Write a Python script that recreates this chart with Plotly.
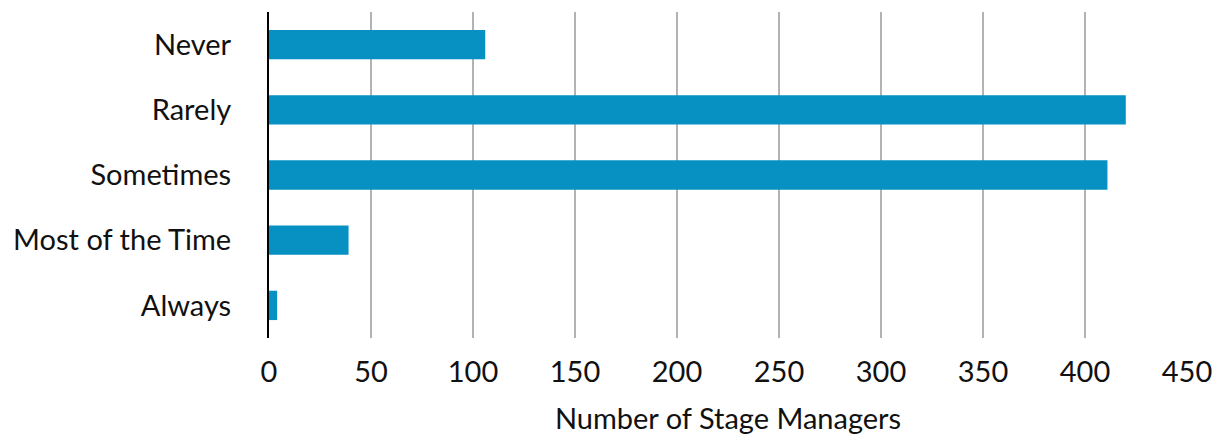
import plotly.graph_objects as go

categories = ["Never", "Rarely", "Sometimes", "Most of the Time", "Always"]
counts = [106, 420, 411, 39, 4]
x_ticks = [0, 50, 100, 150, 200, 250, 300, 350, 400, 450]
x_title = "Number of Stage Managers"

FONT = "Lato, 'Open Sans', sans-serif"

fig = go.Figure(go.Bar(
    y=categories,
    x=counts,
    orientation="h",
    marker=dict(color="#0790C2", line=dict(width=0)),
))

fig.update_layout(
    width=1217, height=436,
    margin=dict(l=269, r=30, t=12, b=98, autoexpand=False),
    plot_bgcolor="white", paper_bgcolor="white",
    bargap=0.55,
    showlegend=False,
    font=dict(family=FONT, size=29, color="#111111"),
)
fig.update_xaxes(
    range=[0, 450],
    tickvals=x_ticks,
    ticktext=[str(v) for v in x_ticks],
    showgrid=True, gridcolor="#b3b3b3", gridwidth=2,
    zeroline=False, showline=False,
    ticks="", ticklabelstandoff=14,
    tickfont=dict(size=29),
    title=dict(text=x_title, font=dict(size=29), standoff=21),
    automargin=False,
)
fig.update_yaxes(
    categoryorder="array", categoryarray=categories[::-1],
    showgrid=False, zeroline=False,
    showline=True, linecolor="black", linewidth=2,
    ticks="", ticklabelstandoff=30,
    tickfont=dict(size=29),
    automargin=False,
)

fig.write_html(
    "out.html",
    config={"displayModeBar": False},
    post_script="document.body.style.margin='0';document.body.style.overflow='hidden';",
)
